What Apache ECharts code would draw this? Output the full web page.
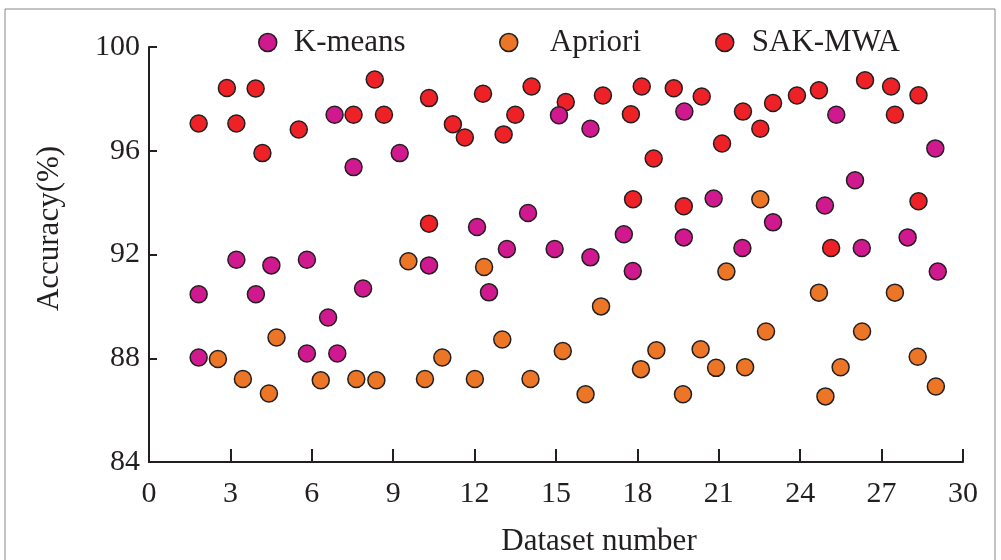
<!DOCTYPE html>
<html>
<head>
<meta charset="utf-8">
<script src="https://cdn.jsdelivr.net/npm/echarts@6/dist/echarts.min.js"></script>
<style>
  html, body { margin: 0; padding: 0; background: #fff; }
  #chart { width: 1001px; height: 560px; }
</style>
</head>
<body>
<div id="chart"></div>
<script>
// values, [dataset number, accuracy %]
const kmeans = [
  [6.84, 97.39], [7.54, 95.37], [9.24, 95.91], [12.09, 93.06], [13.97, 93.6],
  [13.19, 92.21], [14.95, 92.21], [3.22, 91.8], [4.51, 91.58], [5.82, 91.8],
  [10.32, 91.58], [15.11, 97.37], [16.27, 96.85], [19.73, 97.51], [25.33, 97.39],
  [28.98, 96.09], [26.02, 94.86], [20.81, 94.16], [24.91, 93.89], [23.0, 93.24],
  [17.5, 92.78], [19.71, 92.66], [21.87, 92.25], [26.27, 92.25], [27.96, 92.66],
  [16.27, 91.89], [17.83, 91.36], [29.07, 91.34], [1.83, 90.47], [3.94, 90.47],
  [7.89, 90.69], [12.53, 90.54], [6.6, 89.57], [1.83, 88.03], [5.82, 88.18],
  [6.94, 88.18]
];
const apriori = [
  [9.56, 91.74], [12.35, 91.52], [4.7, 88.8], [13.02, 88.72], [2.54, 87.97],
  [10.81, 88.03], [3.46, 87.2], [6.33, 87.15], [7.64, 87.2], [8.38, 87.15],
  [10.17, 87.2], [12.01, 87.2], [14.06, 87.2], [4.42, 86.64], [15.25, 88.28],
  [21.28, 91.34], [24.69, 90.53], [27.49, 90.53], [16.66, 90.0], [22.74, 89.03],
  [26.28, 89.03], [18.7, 88.31], [20.33, 88.35], [28.33, 88.06], [18.13, 87.58],
  [20.9, 87.63], [21.97, 87.65], [25.49, 87.65], [16.09, 86.61], [19.68, 86.61],
  [24.93, 86.53], [29.0, 86.91], [22.53, 94.13]
];
const sakmwa = [
  [1.83, 97.05], [2.87, 98.42], [3.22, 97.05], [3.93, 98.4], [4.18, 95.91],
  [5.52, 96.82], [7.54, 97.39], [8.32, 98.75], [8.66, 97.39], [10.32, 98.03],
  [10.32, 93.19], [11.2, 97.02], [11.64, 96.51], [12.31, 98.2], [13.07, 96.63],
  [13.5, 97.39], [14.1, 98.48], [15.36, 97.88], [16.73, 98.13], [18.16, 98.48],
  [17.76, 97.41], [19.34, 98.41], [20.37, 98.09], [18.6, 95.7], [21.12, 96.28],
  [21.89, 97.51], [22.53, 96.85], [23.0, 97.84], [23.88, 98.13], [24.69, 98.33],
  [26.39, 98.72], [27.35, 98.48], [27.49, 97.39], [28.36, 98.14], [17.84, 94.13],
  [19.71, 93.86], [28.36, 94.05], [25.14, 92.25]
];
const seriesNames = ['K-means', 'Apriori', 'SAK-MWA'];
const seriesColors = ['#d0198f', '#ec7526', '#ee2226'];

const ink = '#231f20';
const font = 'Liberation Serif';

const chart = echarts.init(document.getElementById('chart'));

// each legend entry sits on its own, like in the figure
const legendAt = [258, 499, 715];
const legendTextGap = [12, 27, 13];
const dotStyle = (color) => ({ color: color, borderColor: ink, borderWidth: 1.5, opacity: 1 });

const option = {
  animation: false,
  graphic: [{
    type: 'rect',
    shape: { x: 5, y: 9, width: 990, height: 600 },
    style: { fill: 'none', stroke: '#888', lineWidth: 1 },
    silent: true
  }],
  legend: seriesNames.map((name, i) => ({
    data: [name],
    left: legendAt[i],
    top: 27,
    padding: 0,
    icon: 'circle',
    itemWidth: 18,
    itemHeight: 18,
    itemGap: 0,
    itemStyle: { borderColor: ink, borderWidth: 1.5 },
    textStyle: { fontFamily: font, fontSize: 31, color: ink, padding: [0, 0, 0, legendTextGap[i]] }
  })),
  grid: { left: 149, right: 38, top: 47, bottom: 98, outerBoundsMode: 'none' },
  xAxis: {
    type: 'value',
    min: 0,
    max: 30,
    interval: 3,
    name: 'Dataset number',
    nameLocation: 'middle',
    nameGap: 64,
    nameTextStyle: { fontFamily: font, fontSize: 31, color: ink, padding: [0, 0, 0, 86] },
    axisLine: { lineStyle: { color: ink, width: 2 } },
    axisTick: { inside: true, length: 13, lineStyle: { color: ink, width: 2 } },
    axisLabel: { fontFamily: font, fontSize: 30, color: ink, margin: 17 },
    splitLine: { show: false }
  },
  yAxis: {
    type: 'value',
    min: 84,
    max: 100,
    interval: 4,
    name: 'Accuracy(%)',
    nameLocation: 'middle',
    nameRotate: 90,
    nameGap: 84,
    nameTextStyle: { fontFamily: font, fontSize: 31, color: ink, padding: [0, 0, 0, 52] },
    axisLine: { lineStyle: { color: ink, width: 2 } },
    axisTick: { inside: true, length: 8, lineStyle: { color: ink, width: 2 } },
    axisLabel: { fontFamily: font, fontSize: 30, color: ink, margin: 9 },
    splitLine: { show: false }
  },
  series: [
    { name: 'SAK-MWA', type: 'scatter', data: sakmwa, symbolSize: 17, itemStyle: dotStyle(seriesColors[2]), z: 2 },
    { name: 'Apriori', type: 'scatter', data: apriori, symbolSize: 17, itemStyle: dotStyle(seriesColors[1]), z: 3 },
    { name: 'K-means', type: 'scatter', data: kmeans, symbolSize: 17, itemStyle: dotStyle(seriesColors[0]), z: 4 }
  ]
};

chart.setOption(option);
</script>
</body>
</html>
